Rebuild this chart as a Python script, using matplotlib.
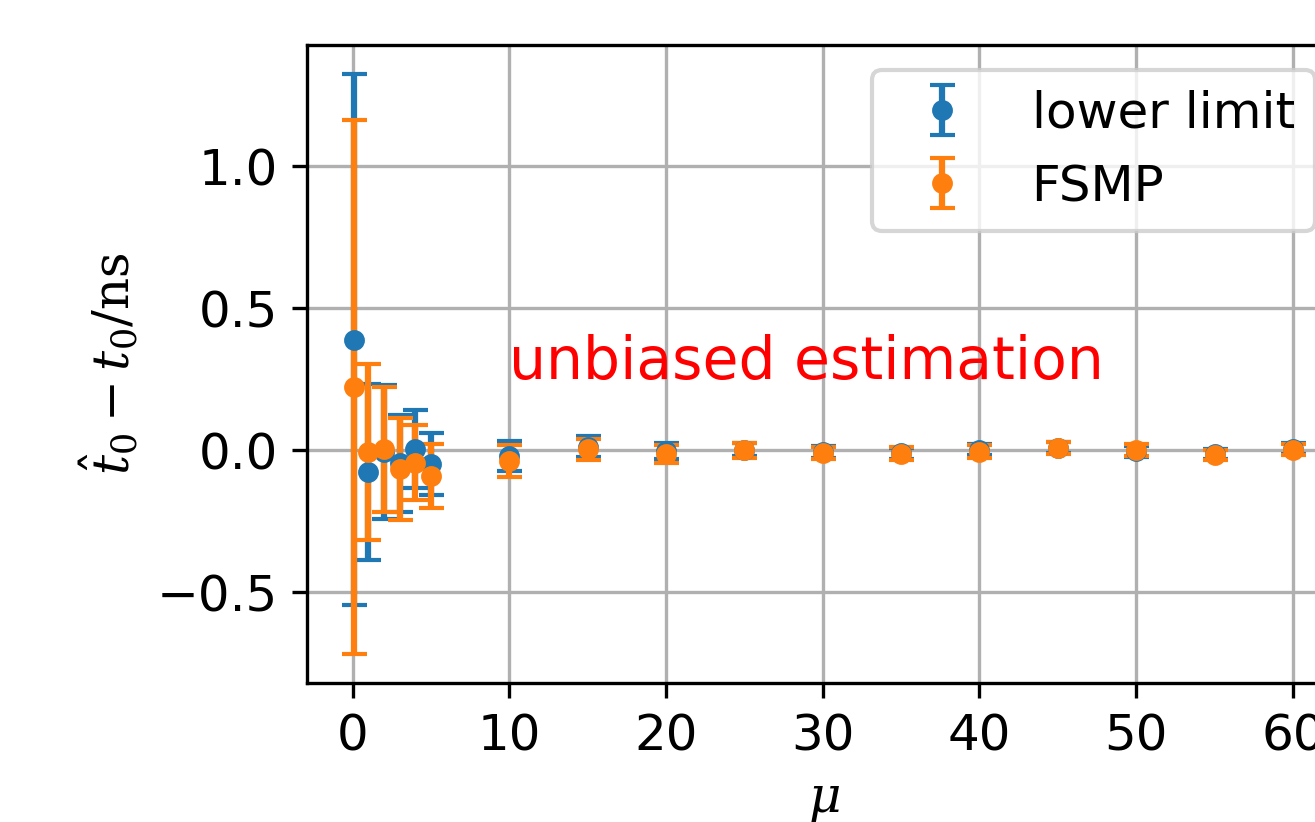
import matplotlib
matplotlib.use("Agg")
import matplotlib.pyplot as plt

plt.rcParams['mathtext.fontset'] = 'dejavuserif'

mu = [0.1, 1, 2, 3, 4, 5, 10, 15, 20, 25, 30, 35, 40, 45, 50, 55, 60]

lower_limit = [0.39, -0.075, -0.005, -0.045, 0.005, -0.047, -0.02, 0.013, -0.002,
               0.003, -0.005, -0.01, 0.003, 0.01, -0.003, -0.012, 0.006]
lower_limit_err = [0.935, 0.31, 0.235, 0.17, 0.136, 0.11, 0.053, 0.037, 0.028,
                   0.024, 0.02, 0.02, 0.02, 0.02, 0.02, 0.018, 0.02]

fsmp = [0.2235, -0.006, 0.005, -0.065, -0.044, -0.09, -0.036, 0.004, -0.012,
        0.0, -0.009, -0.012, -0.004, 0.009, 0.002, -0.015, 0.003]
fsmp_err = [0.94, 0.31, 0.22, 0.18, 0.132, 0.114, 0.056, 0.037, 0.032,
            0.026, 0.022, 0.023, 0.022, 0.02, 0.02, 0.018, 0.018]

W, H, DPI = 1315, 822, 300
fig = plt.figure(figsize=(W / DPI, H / DPI), dpi=DPI)
ax = fig.add_axes([307.3 / W, 139 / H, (1339.8 - 307.3) / W, (683 - 45) / H])

ax.errorbar(mu, lower_limit, yerr=lower_limit_err, fmt='o', markersize=4,
            capsize=3, label='lower limit')
ax.errorbar(mu, fsmp, yerr=fsmp_err, fmt='o', markersize=4,
            capsize=3, label='FSMP')

ax.text(10, 0.25, 'unbiased estimation', color='red', fontsize=14)

ax.set_xlabel(r'$\mu$', fontsize=12)
ax.set_ylabel(r'$\hat{t}_0 - t_0/\mathrm{ns}$', fontsize=12)
ax.tick_params(labelsize=12)
ax.set_xticks([0, 10, 20, 30, 40, 50, 60])
ax.set_yticks([-0.5, 0.0, 0.5, 1.0])
ax.grid(True)
ax.legend(fontsize=12, loc='upper right')

fig.savefig('out.png', dpi=DPI)
